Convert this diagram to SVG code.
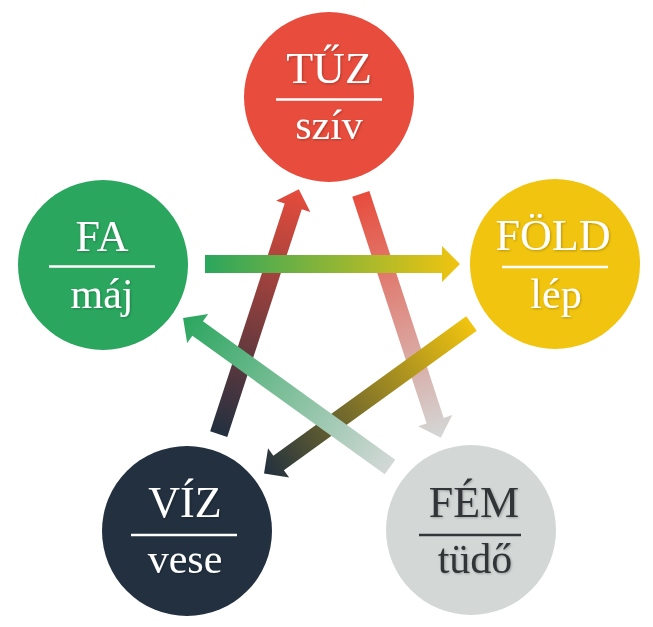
<svg xmlns="http://www.w3.org/2000/svg" width="653" height="627" viewBox="0 0 653 627">
  <style>
    .title { font-family: "Liberation Serif", "Times New Roman", serif; font-size: 44px; text-anchor: middle; }
    .sub { font-family: "Liberation Serif", "Times New Roman", serif; font-size: 42px; text-anchor: middle; }
    .light { fill: #ffffff; }
    .dark { fill: #333638; }
    .rule-light { stroke: #ffffff; stroke-width: 2.5; }
    .rule-dark { stroke: #333638; stroke-width: 2.5; }
  </style>
  <defs>
    <filter id="shadow" x="-20%" y="-20%" width="140%" height="140%">
      <feDropShadow dx="1" dy="1" stdDeviation="1" flood-color="#000000" flood-opacity="0.25"/>
    </filter>
    <linearGradient id="g-fa-fold" x1="0" y1="0" x2="1" y2="0">
      <stop offset="0" stop-color="#2AA65E"/>
      <stop offset="1" stop-color="#F1C40F"/>
    </linearGradient>
    <linearGradient id="g-fold-viz" x1="0" y1="0" x2="1" y2="0">
      <stop offset="0" stop-color="#F1C40F"/>
      <stop offset="1" stop-color="#22303F"/>
    </linearGradient>
    <linearGradient id="g-viz-tuz" x1="0" y1="0" x2="1" y2="0">
      <stop offset="0" stop-color="#22303F"/>
      <stop offset="1" stop-color="#E74C3C"/>
    </linearGradient>
    <linearGradient id="g-tuz-fem" x1="0" y1="0" x2="1" y2="0">
      <stop offset="0" stop-color="#E74C3C"/>
      <stop offset="1" stop-color="#D3D8D7"/>
    </linearGradient>
    <linearGradient id="g-fem-fa" x1="0" y1="0" x2="1" y2="0">
      <stop offset="0" stop-color="#D3D8D7"/>
      <stop offset="1" stop-color="#2AA65E"/>
    </linearGradient>
  </defs>
  <rect width="653" height="627" fill="#ffffff"/>

  <g id="connectors">
    <polygon id="viz-tuz" transform="translate(218.7,434.1) rotate(-71.88)" fill="url(#g-viz-tuz)" points="0,-9 239.6,-9 239.6,-18 257.6,0 239.6,18 239.6,9 0,9"/>
    <polygon id="tuz-fem" transform="translate(360.8,193.9) rotate(71.84)" fill="url(#g-tuz-fem)" points="0,-9 238.7,-9 238.7,-18 256.7,0 238.7,18 238.7,9 0,9"/>
    <polygon id="fa-fold" transform="translate(205,264) rotate(0)" fill="url(#g-fa-fold)" points="0,-9 237,-9 237,-18 255,0 237,18 237,9 0,9"/>
    <polygon id="fold-viz" transform="translate(471.5,323.5) rotate(144.14)" fill="url(#g-fold-viz)" points="0,-9 238,-9 238,-18 256,0 238,18 238,9 0,9"/>
    <polygon id="fem-fa" transform="translate(390,467) rotate(-144.24)" fill="url(#g-fem-fa)" points="0,-9 237,-9 237,-18 255,0 237,18 237,9 0,9"/>
  </g>

  <g id="node-tuz">
    <circle cx="329" cy="97" r="85" fill="#E74C3C"/>
    <text class="title light" x="329" y="83" filter="url(#shadow)">TŰZ</text>
    <line class="rule-light" x1="276" y1="99.5" x2="382" y2="99.5"/>
    <text class="sub light" x="329" y="139" filter="url(#shadow)">szív</text>
  </g>

  <g id="node-fa">
    <circle cx="103" cy="265" r="85" fill="#2AA65E"/>
    <text class="title light" x="102" y="251" filter="url(#shadow)">FA</text>
    <line class="rule-light" x1="49" y1="266.5" x2="155" y2="266.5"/>
    <text class="sub light" x="102" y="308" filter="url(#shadow)">máj</text>
  </g>

  <g id="node-fold">
    <circle cx="555" cy="264" r="85" fill="#F1C40F"/>
    <text class="title light" x="553" y="250" filter="url(#shadow)">FÖLD</text>
    <line class="rule-light" x1="502" y1="267" x2="608" y2="267"/>
    <text class="sub light" x="556" y="308" filter="url(#shadow)">lép</text>
  </g>

  <g id="node-viz">
    <circle cx="187" cy="531" r="85" fill="#22303F"/>
    <text class="title light" x="185" y="517" filter="url(#shadow)">VÍZ</text>
    <line class="rule-light" x1="131" y1="535" x2="237" y2="535"/>
    <text class="sub light" x="185" y="573" filter="url(#shadow)">vese</text>
  </g>

  <g id="node-fem">
    <circle cx="471" cy="530" r="85" fill="#D3D8D7"/>
    <text class="title dark" x="474" y="517" filter="url(#shadow)">FÉM</text>
    <line class="rule-dark" x1="419" y1="535" x2="521" y2="535"/>
    <text class="sub dark" x="475" y="573" filter="url(#shadow)">tüdő</text>
  </g>
</svg>
